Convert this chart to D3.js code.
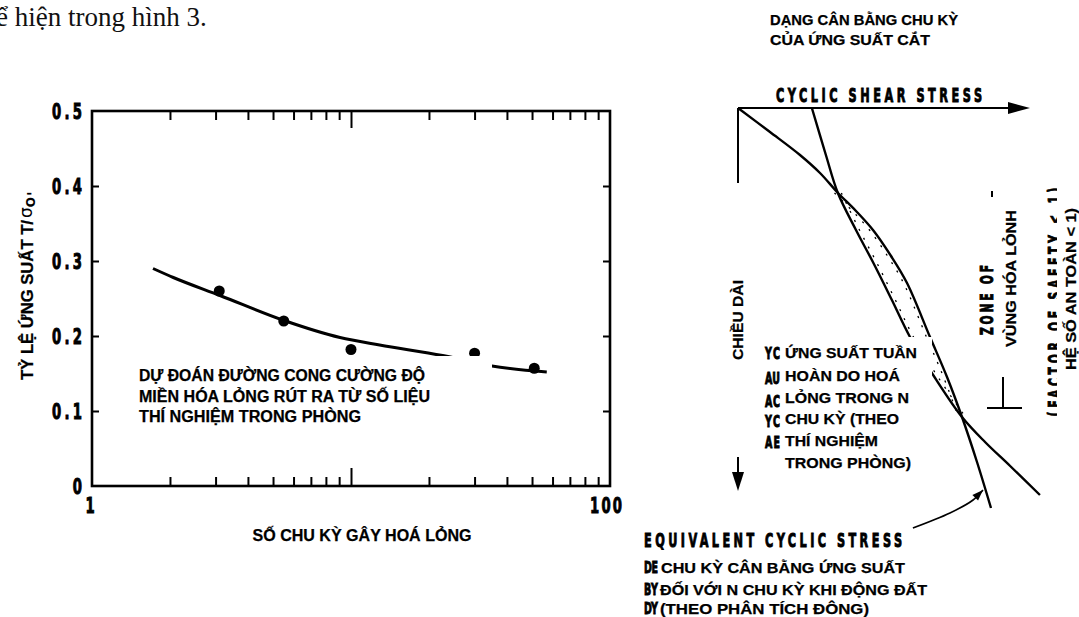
<!DOCTYPE html>
<html>
<head>
<meta charset="utf-8">
<script src="https://cdn.jsdelivr.net/npm/d3@7"></script>
<style>
  body { margin: 0; background: #fff; }
  svg { display: block; }
</style>
</head>
<body>
<svg id="fig" width="1079" height="617"></svg>
<script>
// ---- Left panel: cyclic stress ratio vs number of cycles to liquefaction ----
const testCycles = [3.1, 5.5, 10, 30, 51];
const testRatio = [0.260, 0.220, 0.182, 0.177, 0.157];
const fitCycles = [1.72, 2.06, 3.12, 5.48, 9.07, 12.9, 22.6, 35, 57];
const fitRatio = [0.290, 0.278, 0.254, 0.221, 0.198, 0.188, 0.174, 0.160, 0.152];
const yTicks = [0, 0.1, 0.2, 0.3, 0.4, 0.5];
const xLabelTicks = [1, 100];
const xMinorTicks = [2, 3, 4, 5, 6, 7, 8, 9, 20, 30, 40, 50, 60, 70, 80, 90];
const xMajorTicks = [10];

// ---- Right panel: stress profiles with depth (relative units, depth 0–100) ----
const inducedStress = [0, 10.96, 21.23, 28.08, 34.25, 40.41, 46.23, 52.4, 57.88, 65.75, 71.58, 76.71, 81.85, 86.64];
const inducedDepth  = [0, 6, 11.75, 16.25, 21.25, 25.75, 30.5, 37, 43.75, 57.25, 67.25, 77.25, 88.5, 100];
const resistStress  = [25.3, 30.1, 34.2, 40.4, 46.2, 52.7, 58.9, 67.5, 76.7, 84.6, 93.2, 103.4];
const resistDepth   = [0, 11.75, 21.25, 30.5, 38.5, 48, 57.25, 67.5, 77.25, 83.5, 89.5, 96.75];
const pointerStress = [59.9, 72.6, 80.5, 83.9];
const pointerDepth  = [105, 101.25, 98, 95.5];

const VN = "'Liberation Sans', Arial, sans-serif";
const COND = "'DejaVu Sans Condensed', 'DejaVu Sans', sans-serif";

const svg = d3.select("#fig");

// bold sans label; (x, y) is the anchor at the vertical middle of the capitals
function txt(parent, str, x, y, o = {}) {
  const t = parent.append("text")
    .attr("x", x).attr("y", y)
    .attr("dy", "0.36em")
    .attr("text-anchor", o.anchor || "start")
    .style("font-family", VN)
    .style("font-weight", "bold")
    .style("font-size", (o.size || 15) + "px")
    .attr("fill", "#000")
    .attr("stroke", "#000").attr("stroke-width", 0.25)
    .text(str);
  if (o.len) t.attr("textLength", o.len).attr("lengthAdjust", "spacingAndGlyphs");
  if (o.rotate) t.attr("transform", `rotate(${o.rotate},${x},${y})`);
  return t;
}

// narrow, widely spaced drafting lettering
function cond(parent, str, x, y, o = {}) {
  const f = o.squeeze || 0.66;
  const g = parent.append("g")
    .attr("transform", `translate(${x},${y})${o.rotate ? ` rotate(${o.rotate})` : ""} scale(${f},1)`);
  const t = g.append("text")
    .attr("x", 0).attr("y", 0).attr("dy", "0.36em")
    .attr("text-anchor", o.anchor || "start")
    .style("font-family", COND)
    .style("font-weight", "bold")
    .style("font-size", (o.size || 18) + "px")
    .attr("fill", "#000")
    .attr("stroke", "#000").attr("stroke-width", 0.9)
    .text(str);
  if (o.len) t.attr("textLength", o.len / f).attr("lengthAdjust", "spacing");
  return t;
}

// Running text fragment above the figure
svg.append("text").attr("x", -4).attr("y", 26)
  .style("font-family", "'Liberation Serif', 'Times New Roman', serif")
  .style("font-size", "27px").attr("fill", "#111")
  .text("ể hiện trong hình 3.");

// ===== Left panel =====
const x = d3.scaleLog().domain([1, 100]).range([92, 610]);
const y = d3.scaleLinear().domain([0, 0.5]).range([486, 111]);
const L = svg.append("g");

L.append("rect")
  .attr("x", x(1)).attr("y", y(0.5))
  .attr("width", x(100) - x(1)).attr("height", y(0) - y(0.5))
  .attr("fill", "none").attr("stroke", "#000").attr("stroke-width", 2.6);

function axisG(axis, tx, ty) {
  const g = L.append("g").attr("transform", `translate(${tx},${ty})`).call(axis);
  g.select(".domain").remove();
  g.selectAll("line").attr("stroke", "#000").attr("stroke-width", 2);
  return g;
}
axisG(d3.axisBottom(x).tickValues(xMinorTicks).tickSize(-9).tickFormat(""), 0, y(0));
axisG(d3.axisBottom(x).tickValues(xMajorTicks).tickSize(-18).tickFormat(""), 0, y(0));
axisG(d3.axisTop(x).tickValues(xMinorTicks).tickSize(-9).tickFormat(""), 0, y(0.5));
axisG(d3.axisTop(x).tickValues(xMajorTicks).tickSize(-17).tickFormat(""), 0, y(0.5));
axisG(d3.axisLeft(y).tickValues(yTicks.slice(1, -1)).tickSize(-7).tickFormat(""), x(1), 0);
axisG(d3.axisRight(y).tickValues(yTicks.slice(1, -1)).tickSize(-7).tickFormat(""), x(100), 0);

// tick labels
yTicks.forEach(d => {
  const s = d === 0 ? "0" : d3.format(".1f")(d);
  cond(L, s, x(1) - 10, y(d), { size: 21, anchor: "end", squeeze: 0.7, len: d === 0 ? null : 30 });
});
xLabelTicks.forEach(d => {
  const s = d3.format("d")(d);
  if (d === 1) cond(L, s, x(d) - 2, y(0) + 19, { size: 21, anchor: "middle", squeeze: 0.7 });
  else cond(L, s, x(d) - 20, y(0) + 19, { size: 21, squeeze: 0.7, len: 32 });
});

// fitted strength curve and test points
L.append("path")
  .datum(fitCycles.map((c, i) => [c, fitRatio[i]]))
  .attr("d", d3.line().x(d => x(d[0])).y(d => y(d[1])).curve(d3.curveMonotoneX))
  .attr("fill", "none").attr("stroke", "#000").attr("stroke-width", 3);
L.selectAll("circle.pt")
  .data(testCycles.map((c, i) => [c, testRatio[i]]))
  .join("circle").attr("class", "pt")
  .attr("cx", d => x(d[0])).attr("cy", d => y(d[1])).attr("r", 5.5).attr("fill", "#000");

// annotation block (white backing)
L.append("rect").attr("x", 135).attr("y", 356).attr("width", 357).attr("height", 80).attr("fill", "#fff");
txt(L, "DỰ ĐOÁN ĐƯỜNG CONG CƯỜNG ĐỘ", 139, 375, { size: 16, len: 286 });
txt(L, "MIỀN HÓA LỎNG RÚT RA TỪ SỐ LIỆU", 139, 396, { size: 16, len: 291 });
txt(L, "THÍ NGHIỆM TRONG PHÒNG", 139, 416.5, { size: 16, len: 222 });

// axis titles
txt(L, "SỐ CHU KỲ GÂY HOÁ LỎNG", 362, 535, { size: 16, anchor: "middle", len: 219 });
const yt = L.append("g").attr("transform", "translate(33,380) rotate(-90)");
yt.append("text").attr("x", 0).attr("y", 0)
  .style("font-family", VN).style("font-weight", "bold").style("font-size", "16px")
  .attr("stroke", "#000").attr("stroke-width", 0.25)
  .attr("textLength", 160).attr("lengthAdjust", "spacingAndGlyphs")
  .text("TỶ LỆ ỨNG SUẤT T/");
const sg = yt.append("text").attr("x", 162).attr("y", -1)
  .style("font-family", "'DejaVu Sans', sans-serif").style("font-size", "17px");
sg.append("tspan").text("σ");
sg.append("tspan").attr("dy", 3).style("font-size", "12px").style("font-weight", "bold").text("O");
sg.append("tspan").attr("dy", 4).attr("dx", 1).style("font-size", "15px").style("font-weight", "bold").text("'");

// ===== Right panel =====
const sx = d3.scaleLinear().domain([0, 100]).range([738, 1030]);
const sy = d3.scaleLinear().domain([0, 100]).range([108, 508]);
const R = svg.append("g");

// stress axis with arrow
R.append("line").attr("x1", sx(0)).attr("y1", sy(0)).attr("x2", sx(100) - 18).attr("y2", sy(0))
  .attr("stroke", "#000").attr("stroke-width", 2);
R.append("path")
  .attr("d", `M${sx(100)},${sy(0)} L${sx(100) - 22},${sy(0) - 6} L${sx(100) - 22},${sy(0) + 6} Z`)
  .attr("fill", "#000");
// depth axis with arrow
R.append("line").attr("x1", sx(0)).attr("y1", sy(0)).attr("x2", sx(0)).attr("y2", sy(18.75))
  .attr("stroke", "#000").attr("stroke-width", 2);
R.append("line").attr("x1", sx(0)).attr("y1", sy(87.25)).attr("x2", sx(0)).attr("y2", sy(92))
  .attr("stroke", "#000").attr("stroke-width", 2);
R.append("path")
  .attr("d", `M${sx(0)},${sy(95.75)} L${sx(0) - 6},${sy(91)} L${sx(0) + 6},${sy(91)} Z`)
  .attr("fill", "#000");

const prof = d3.line().x(d => sx(d[0])).y(d => sy(d[1])).curve(d3.curveCatmullRom.alpha(0.5));
const induced = inducedStress.map((s, i) => [s, inducedDepth[i]]);
const resist = resistStress.map((s, i) => [s, resistDepth[i]]);
R.append("path").datum(induced).attr("d", prof)
  .attr("fill", "none").attr("stroke", "#000").attr("stroke-width", 2.4);
R.append("path").datum(resist).attr("d", prof)
  .attr("fill", "none").attr("stroke", "#000").attr("stroke-width", 2.4);

// hatching inside the liquefaction lens
R.append("path").datum(induced.slice(4, 12)).attr("d", prof)
  .attr("transform", "translate(-3.5,0)")
  .attr("fill", "none").attr("stroke", "#000").attr("stroke-width", 1.3).attr("stroke-dasharray", "2 8");
R.append("path").datum(resist.slice(2, 9)).attr("d", prof)
  .attr("transform", "translate(3.5,0)")
  .attr("fill", "none").attr("stroke", "#000").attr("stroke-width", 1.3).attr("stroke-dasharray", "2 8");

// drafting labels of the base drawing
cond(R, "CYCLIC SHEAR STRESS", 776, 95, { size: 19, len: 206 });
cond(R, "EQUIVALENT CYCLIC STRESS", 644, 540, { size: 19, len: 258 });
cond(R, "ZONE OF", 987, 300, { size: 18, len: 70, anchor: "middle", rotate: -90 });
cond(R, "(FACTOR OF SAFETY < 1)", 1055, 302, { size: 18, len: 229, anchor: "middle", rotate: -90 });
[["YC", 353], ["AU", 378], ["AC", 401], ["YC", 421], ["AE", 442]].forEach(([s, yy]) =>
  cond(R, s, 765, yy, { size: 16, len: 15 }));
[["DE", 567.5], ["BY", 589.5], ["DY", 608.5]].forEach(([s, yy]) =>
  cond(R, s, 644, yy, { size: 16, len: 14 }));

// bracket marks of the zone
R.append("line").attr("x1", 992).attr("y1", 191).attr("x2", 992).attr("y2", 197)
  .attr("stroke", "#000").attr("stroke-width", 2);
R.append("line").attr("x1", 1003).attr("y1", 377).attr("x2", 1003).attr("y2", 408)
  .attr("stroke", "#000").attr("stroke-width", 2);
R.append("line").attr("x1", 987).attr("y1", 408).attr("x2", 1022).attr("y2", 408)
  .attr("stroke", "#000").attr("stroke-width", 2);

// pointer to the equivalent stress profile
const ptr = pointerStress.map((s, i) => [s, pointerDepth[i]]);
R.append("path").datum(ptr).attr("d", prof)
  .attr("fill", "none").attr("stroke", "#000").attr("stroke-width", 1.6);
{
  const a = ptr[ptr.length - 2], b = ptr[ptr.length - 1];
  const tx = sx(b[0]), ty = sy(b[1]);
  const ang = Math.atan2(ty - sy(a[1]), tx - sx(a[0]));
  const len = 11, w = 4;
  const bx = tx - len * Math.cos(ang), by = ty - len * Math.sin(ang);
  R.append("path")
    .attr("d", `M${tx},${ty} L${bx - w * Math.sin(ang)},${by + w * Math.cos(ang)} L${bx + w * Math.sin(ang)},${by - w * Math.cos(ang)} Z`)
    .attr("fill", "#000");
}

// Vietnamese labels on white backing
R.append("rect").attr("x", 782).attr("y", 337).attr("width", 150).attr("height", 141).attr("fill", "#fff");
R.append("rect").attr("x", 659).attr("y", 554).attr("width", 290).attr("height", 63).attr("fill", "#fff");
R.append("rect").attr("x", 1057).attr("y", 180).attr("width", 22).attr("height", 245).attr("fill", "#fff");

txt(R, "DẠNG CÂN BẰNG CHU KỲ", 770, 20, { size: 14.5, len: 188 });
txt(R, "CỦA ỨNG SUẤT CẮT", 770, 40, { size: 14.5, len: 160 });

txt(R, "ỨNG SUẤT TUẦN", 785, 352.5, { size: 15, len: 132 });
txt(R, "HOÀN DO HOÁ", 785, 376, { size: 15, len: 115 });
txt(R, "LỎNG TRONG N", 785, 398, { size: 15, len: 124 });
txt(R, "CHU KỲ (THEO", 785, 419, { size: 15, len: 114 });
txt(R, "THÍ NGHIỆM", 785, 441, { size: 15, len: 93 });
txt(R, "TRONG PHÒNG)", 785, 463, { size: 15, len: 126 });

txt(R, "CHU KỲ CÂN BẰNG ỨNG SUẤT", 661, 567.5, { size: 15, len: 244 });
txt(R, "ĐỐI VỚI N CHU KỲ KHI ĐỘNG ĐẤT", 660, 589.5, { size: 15, len: 267 });
txt(R, "(THEO PHÂN TÍCH ĐÔNG)", 660, 608.5, { size: 15, len: 209 });

txt(R, "CHIỀU DÀI", 738, 320, { size: 15, len: 80, anchor: "middle", rotate: -90 });
txt(R, "VÙNG HÓA LỎNH", 1011, 278.5, { size: 15, len: 137, anchor: "middle", rotate: -90 });
txt(R, "HỆ SỐ AN TOÀN < 1)", 1071, 289, { size: 15, len: 162, anchor: "middle", rotate: -90 });
</script>
</body>
</html>
